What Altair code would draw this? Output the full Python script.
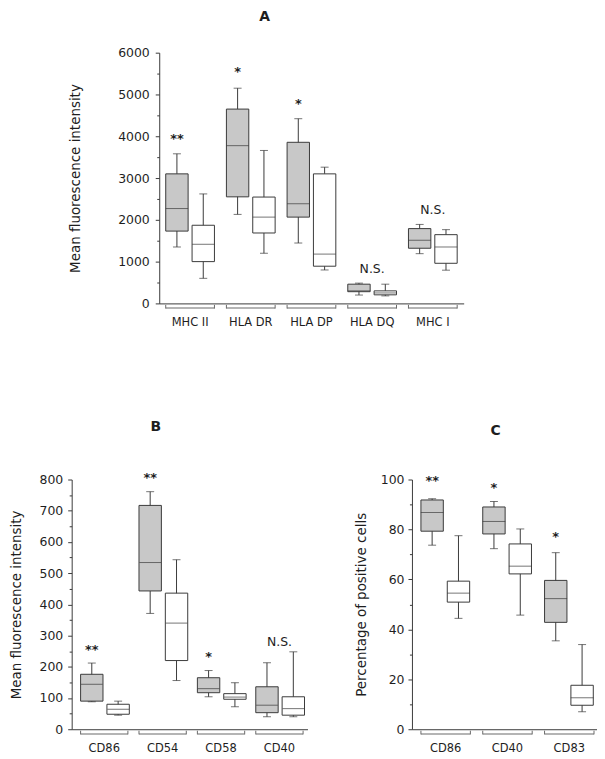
import altair as alt
import pandas as pd

FONT = "DejaVu Sans"
INK = "#1e1e1e"
LINE = "#3a3a3a"
BRACKET = "#6a6a6a"
GREY = "#c8c8c8"

# ---------------- Panel A ----------------
a_groups = ["MHC II", "HLA DR", "HLA DP", "HLA DQ", "MHC I"]
a_grey_low = [1350, 2130, 1445, 200, 1190]
a_grey_q1 = [1730, 2550, 2065, 280, 1320]
a_grey_med = [2270, 3775, 2385, 300, 1510]
a_grey_q3 = [3100, 4650, 3855, 460, 1790]
a_grey_high = [3580, 5150, 4420, 485, 1890]
a_white_low = [600, 1200, 800, 180, 795]
a_white_q1 = [1000, 1685, 890, 205, 960]
a_white_med = [1415, 2065, 1180, 250, 1350]
a_white_q3 = [1870, 2545, 3100, 300, 1645]
a_white_high = [2620, 3660, 3260, 460, 1765]
a_marks = ["**", "*", "*", "N.S.", "N.S."]
a_mark_y = [3920, 5510, 4750, 795, 2210]

# ---------------- Panel B ----------------
b_groups = ["CD86", "CD54", "CD58", "CD40"]
b_grey_low = [88, 371, 104, 40]
b_grey_q1 = [90, 443, 117, 53]
b_grey_med = [144, 534, 130, 77]
b_grey_q3 = [176, 717, 165, 136]
b_grey_high = [212, 761, 188, 213]
b_white_low = [45, 156, 72, 40]
b_white_q1 = [48, 220, 96, 45]
b_white_med = [64, 340, 103, 66]
b_white_q3 = [80, 436, 114, 104]
b_white_high = [90, 543, 149, 248]
b_marks = ["**", "**", "*", "N.S."]
b_mark_y = [250, 803, 229, 277]

# ---------------- Panel C ----------------
c_groups = ["CD86", "CD40", "CD83"]
c_grey_low = [73.7, 72.3, 35.4]
c_grey_q1 = [79.3, 78.2, 42.8]
c_grey_med = [86.8, 83.2, 52.3]
c_grey_q3 = [91.8, 89.0, 59.6]
c_grey_high = [92.3, 91.2, 70.7]
c_white_low = [44.4, 45.7, 7.0]
c_white_q1 = [50.9, 62.2, 9.6]
c_white_med = [54.5, 65.3, 12.6]
c_white_q3 = [59.3, 74.2, 17.6]
c_white_high = [77.5, 80.2, 33.9]
c_marks = ["**", "*", "*"]
c_mark_y = [99.1, 96.1, 76.5]

OFFSET_PAD = 0.15


def panel(groups, grey, white, marks, mark_y, ymax, major, minor,
          width, height, ytitle, xscale, title, ytitle_x, ylabel_pad, xlabel_pad):
    rows = []
    for i, g in enumerate(groups):
        for cond, s in (("g", grey), ("w", white)):
            rows.append(dict(group=g, cond=cond, low=s[0][i], q1=s[1][i],
                             med=s[2][i], q3=s[3][i], high=s[4][i]))
    df = pd.DataFrame(rows)
    gdf = pd.DataFrame({"group": groups})
    tdf = pd.DataFrame({"group": groups, "label": marks, "y": mark_y,
                        "cond": ["g"] * len(groups)})

    # pixel width of one box, from the band scale parameters
    pi, po = xscale["paddingInner"], xscale["paddingOuter"]
    step = width / (len(groups) - pi + 2 * po)
    band = step * (1 - pi)
    boxw = band * (1 - OFFSET_PAD) / (2 - OFFSET_PAD)

    xax = alt.Axis(title=None, labelAngle=0, ticks=False, tickSize=0,
                   domain=True, domainColor=LINE, domainWidth=1,
                   labelFont=FONT, labelFontSize=11.5, labelColor=INK,
                   labelPadding=xlabel_pad, grid=False)
    xs = alt.Scale(**xscale)

    def X(**kw):
        return alt.X("group:N", sort=groups, scale=xs, axis=xax, **kw)

    xo = alt.XOffset("cond:N", sort=["g", "w"],
                     scale=alt.Scale(paddingInner=OFFSET_PAD, paddingOuter=0))

    yax = alt.Axis(
        title=ytitle, values=list(range(0, ymax + 1, minor)), format="d",
        labelExpr=f"datum.value % {major} == 0 ? datum.label : ''",
        tickSize={"condition": {"test": f"datum.value % {major} == 0", "value": 4},
                  "value": 2.5},
        tickColor=LINE, domainColor=LINE, grid=False,
        labelFont=FONT, labelFontSize=12.5, labelColor=INK, labelPadding=ylabel_pad,
        titleFont=FONT, titleFontSize=13.5, titleFontWeight="normal",
        titleColor=INK, titleX=ytitle_x, titleY=height / 2,
        titleAngle=270, titleBaseline="bottom", titleAlign="center")
    ys = alt.Scale(domain=[0, ymax], nice=False, zero=True)

    def Y(f):
        return alt.Y(f"{f}:Q", scale=ys, axis=yax)

    base = alt.Chart(df)
    whisker = base.mark_rule(color=LINE, strokeWidth=1).encode(
        x=X(), xOffset=xo, y=Y("low"), y2="high")
    box = base.mark_bar(stroke=LINE, strokeWidth=1).encode(
        x=X(), xOffset=xo, y=Y("q1"), y2="q3",
        fill=alt.Fill("cond:N", scale=alt.Scale(domain=["g", "w"], range=[GREY, "#ffffff"]),
                      legend=None))
    med = base.mark_tick(orient="horizontal", color=LINE, thickness=1, size=boxw).encode(
        x=X(), xOffset=xo, y=Y("med"))
    caplo = base.mark_tick(orient="horizontal", color=LINE, thickness=1, size=8).encode(
        x=X(), xOffset=xo, y=Y("low"))
    caphi = base.mark_tick(orient="horizontal", color=LINE, thickness=1, size=8).encode(
        x=X(), xOffset=xo, y=Y("high"))

    gb = alt.Chart(gdf)
    br_line = gb.mark_bar(color=BRACKET).encode(
        x=X(), y=alt.value(height + 4.2), y2=alt.value(height + 5.2))
    br_l = gb.mark_rule(color=BRACKET, strokeWidth=1).encode(
        x=X(bandPosition=0), y=alt.value(height + 1.5), y2=alt.value(height + 5.2))
    br_r = gb.mark_rule(color=BRACKET, strokeWidth=1).encode(
        x=X(bandPosition=1), y=alt.value(height + 1.5), y2=alt.value(height + 5.2))

    tb = alt.Chart(tdf)
    stars = tb.transform_filter("datum.label != 'N.S.'").mark_text(
        font=FONT, fontSize=13, fontWeight="bold", baseline="alphabetic", dy=3,
        color=INK).encode(x=X(), xOffset=xo, y=Y("y"), text="label:N")
    ns = tb.transform_filter("datum.label == 'N.S.'").mark_text(
        font=FONT, fontSize=12.5, baseline="alphabetic", dy=3, color=INK).encode(
        x=X(), y=Y("y"), text="label:N")

    return alt.layer(whisker, box, med, caplo, caphi, br_line, br_l, br_r,
                     stars, ns).properties(width=width, height=height, title=title)


def ttl(text, offset, dx):
    return alt.TitleParams(text=text, font=FONT, fontSize=14, fontWeight="bold",
                           color=INK, anchor="middle", offset=offset,
                           frame="group", dx=dx)


chart_a = panel(a_groups,
                (a_grey_low, a_grey_q1, a_grey_med, a_grey_q3, a_grey_high),
                (a_white_low, a_white_q1, a_white_med, a_white_q3, a_white_high),
                a_marks, a_mark_y, 6000, 1000, 500, 306, 252,
                "Mean fluorescence intensity",
                dict(paddingInner=0.197, paddingOuter=0.107),
                ttl("A", 23, -47), -77, 6, 13)

chart_b = panel(b_groups,
                (b_grey_low, b_grey_q1, b_grey_med, b_grey_q3, b_grey_high),
                (b_white_low, b_white_q1, b_white_med, b_white_q3, b_white_high),
                b_marks, b_mark_y, 800, 100, 50, 237, 251,
                "Mean fluorescence intensity",
                dict(paddingInner=0.19, paddingOuter=0.114, align=0.67),
                ttl("B", 38, -34), -48, 5, 13)

chart_c = panel(c_groups,
                (c_grey_low, c_grey_q1, c_grey_med, c_grey_q3, c_grey_high),
                (c_white_low, c_white_q1, c_white_med, c_white_q3, c_white_high),
                c_marks, c_mark_y, 100, 20, 10, 186, 251,
                "Percentage of positive cells",
                dict(paddingInner=0.2, paddingOuter=0.097, align=0.75),
                ttl("C", 36, -9), -44, 4, 13)


def spacer(w, h):
    return alt.Chart(pd.DataFrame({"v": [0]})).mark_point(size=0, opacity=0).encode(
        x=alt.value(0), y=alt.value(0)).properties(width=w, height=h)


row1 = alt.hconcat(spacer(61, 10), chart_a, spacing=0)
inner = alt.hconcat(chart_b, chart_c, spacing=46)
row2 = alt.hconcat(spacer(1, 1), alt.vconcat(spacer(1, 1), inner, spacing=0), spacing=0)

chart = alt.vconcat(row1, row2, spacing=91).properties(
    padding=0, background="white").configure_view(stroke=None)

chart.save("out.html", embed_options={"renderer": "svg", "actions": False})
